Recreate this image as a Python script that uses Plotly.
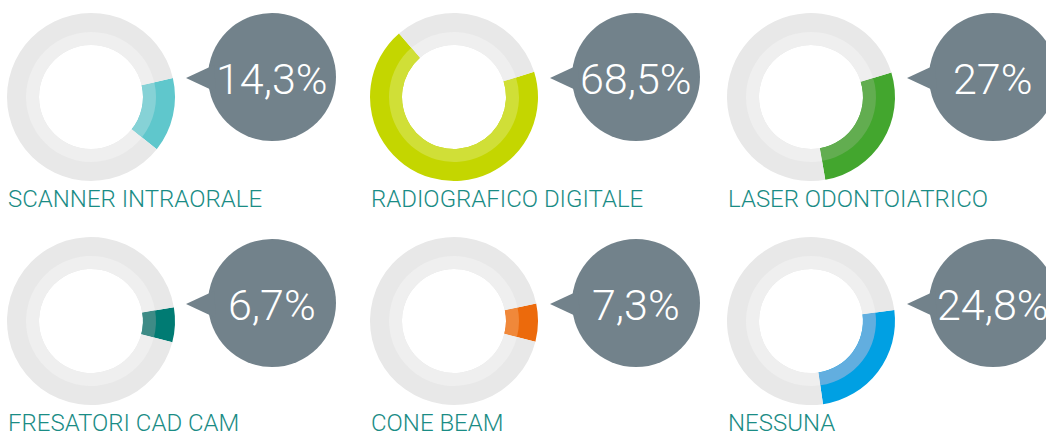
import plotly.graph_objects as go

# ---- data ----
categories = ["SCANNER INTRAORALE", "RADIOGRAFICO DIGITALE", "LASER ODONTOIATRICO",
              "FRESATORI CAD CAM", "CONE BEAM", "NESSUNA"]
values = [14.3, 68.5, 27.0, 6.7, 7.3, 24.8]
value_labels = ["14,3%", "68,5%", "27%", "6,7%", "7,3%", "24,8%"]

# ---- style ----
outer_colors = ["#5fc7cc", "#c4d600", "#43a62e", "#007b73", "#ec6a0c", "#00a0e3"]
inner_colors = ["#86d2d6", "#d0df37", "#62ad50", "#3e8b86", "#f0883a", "#62aedf"]
rotations = [77, 72.5, 73, 80.5, 78, 82.5]
GRAY_OUT, GRAY_IN = "#e8e8e8", "#efefef"
BUBBLE = "#72828b"
LABEL_COLOR = "#1a8c85"

W, H = 1046, 432
col_cx = [91, 454, 811]
row_cy = [97, 321]
bubble_cx = [272, 636, 993]
bubble_dy = [-20, -18]
R_OUT, R_MID, R_HOLE = 84, 65, 52
R_BUB = 64

fig = go.Figure()
shapes = []
annotations = []

def px(x):
    return x / W

def py(y):
    return 1 - y / H

for i, (cat, v, lab) in enumerate(zip(categories, values, value_labels)):
    r, c = divmod(i, 3)
    cx, cy = col_cx[c], row_cy[r]
    for rad, hole, cols in [(R_OUT, R_HOLE / R_OUT, [outer_colors[i], GRAY_OUT]),
                            (R_MID, R_HOLE / R_MID, [inner_colors[i], GRAY_IN])]:
        fig.add_trace(go.Pie(
            values=[v, 100 - v],
            labels=[cat, "altro"],
            sort=False,
            direction="clockwise",
            rotation=rotations[i],
            hole=hole,
            marker=dict(colors=cols, line=dict(width=0)),
            textinfo="none",
            hoverinfo="skip",
            showlegend=False,
            domain=dict(x=[px(cx - rad), px(cx + rad)],
                        y=[py(cy + rad), py(cy - rad)]),
        ))
    # bubble
    bx, by = bubble_cx[c], cy + bubble_dy[r]
    shapes.append(dict(type="circle", xref="paper", yref="paper",
                       x0=px(bx - R_BUB), x1=px(bx + R_BUB),
                       y0=py(by + R_BUB), y1=py(by - R_BUB),
                       fillcolor=BUBBLE, line=dict(width=0), layer="above"))
    tip = (bx - 86, by + 1)
    b1 = (bx - 58, by - 12)
    b2 = (bx - 56, by + 15)
    path = "M {} {} L {} {} L {} {} Z".format(px(tip[0]), py(tip[1]),
                                              px(b1[0]), py(b1[1]),
                                              px(b2[0]), py(b2[1]))
    shapes.append(dict(type="path", xref="paper", yref="paper", path=path,
                       fillcolor=BUBBLE, line=dict(width=0), layer="above"))
    annotations.append(dict(text=lab, x=px(bx), y=py(by + 2), xref="paper", yref="paper",
                            xanchor="center", yanchor="middle", showarrow=False,
                            font=dict(family="Roboto", size=43, color="white", weight=300)))
    annotations.append(dict(text=cat, x=px(cx - R_OUT - 1), y=py(cy + 102), xref="paper", yref="paper",
                            xanchor="left", yanchor="middle", showarrow=False,
                            font=dict(family="Roboto", size=24, color=LABEL_COLOR, weight=300)))

fig.update_layout(width=W, height=H, margin=dict(l=0, r=0, t=0, b=0),
                  paper_bgcolor="white", plot_bgcolor="white",
                  shapes=shapes, annotations=annotations, showlegend=False)
fig.write_html("out.html", config={"displayModeBar": False},
               post_script="document.body.style.margin='0px';document.body.style.overflow='hidden';")
